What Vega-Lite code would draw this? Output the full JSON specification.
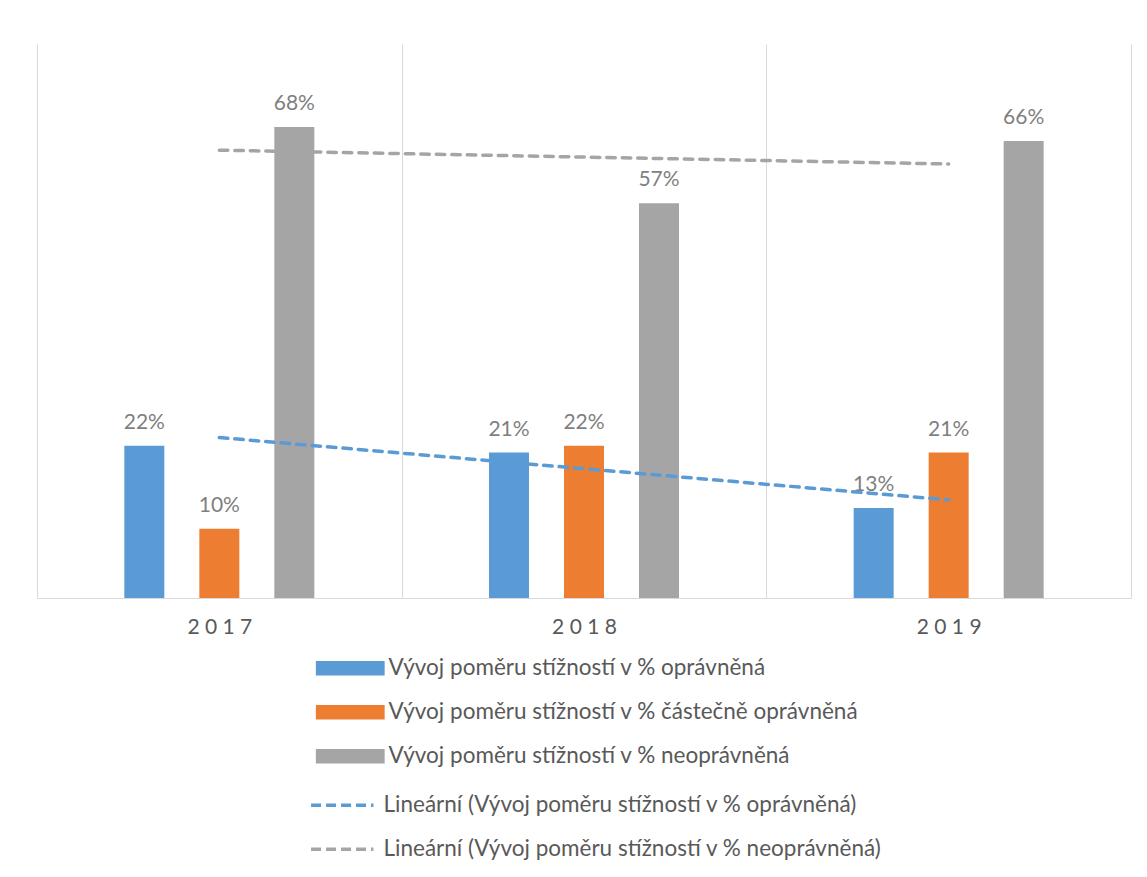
{
  "$schema": "https://vega.github.io/schema/vega-lite/v6.json",
  "width": 1094,
  "height": 554,
  "padding": {"left": 37, "top": 44, "right": 16, "bottom": 5},
  "background": "white",
  "config": {"view": {"stroke": null}, "font": "Lato"},
  "datasets": {
    "bars": [
      {"year": "2017", "series": "Vývoj poměru stížností v % oprávněná", "value": 0.22},
      {"year": "2017", "series": "Vývoj poměru stížností v % částečně oprávněná", "value": 0.10},
      {"year": "2017", "series": "Vývoj poměru stížností v % neoprávněná", "value": 0.68},
      {"year": "2018", "series": "Vývoj poměru stížností v % oprávněná", "value": 0.21},
      {"year": "2018", "series": "Vývoj poměru stížností v % částečně oprávněná", "value": 0.22},
      {"year": "2018", "series": "Vývoj poměru stížností v % neoprávněná", "value": 0.57},
      {"year": "2019", "series": "Vývoj poměru stížností v % oprávněná", "value": 0.13},
      {"year": "2019", "series": "Vývoj poměru stížností v % částečně oprávněná", "value": 0.21},
      {"year": "2019", "series": "Vývoj poměru stížností v % neoprávněná", "value": 0.66}
    ],
    "trend": [
      {"year": "2017", "series": "Lineární (Vývoj poměru stížností v % oprávněná)", "value": 0.2317},
      {"year": "2018", "series": "Lineární (Vývoj poměru stížností v % oprávněná)", "value": 0.1867},
      {"year": "2019", "series": "Lineární (Vývoj poměru stížností v % oprávněná)", "value": 0.1417},
      {"year": "2017", "series": "Lineární (Vývoj poměru stížností v % neoprávněná)", "value": 0.6467},
      {"year": "2018", "series": "Lineární (Vývoj poměru stížností v % neoprávněná)", "value": 0.6367},
      {"year": "2019", "series": "Lineární (Vývoj poměru stížností v % neoprávněná)", "value": 0.6267}
    ]
  },
  "encoding": {
    "x": {
      "field": "year",
      "type": "ordinal",
      "scale": {"paddingInner": 0, "paddingOuter": 0},
      "axis": {
        "title": null,
        "grid": true,
        "tickBand": "extent",
        "gridColor": "#d9d9d9",
        "gridWidth": 1,
        "ticks": false,
        "domainColor": "#d9d9d9",
        "domainWidth": 1,
        "labelAngle": 0,
        "labelFont": "Lato",
        "labelFontSize": 21,
        "labelColor": "#595959",
        "labelPadding": 18,
        "labelExpr": "join(split(datum.label, ''), ' ')"
      }
    },
    "y": {
      "field": "value",
      "type": "quantitative",
      "scale": {"domain": [0, 0.8], "nice": false},
      "axis": null
    }
  },
  "layer": [
    {
      "data": {"name": "bars"},
      "mark": {"type": "bar", "width": 40},
      "encoding": {
        "xOffset": {
          "field": "series",
          "type": "nominal",
          "sort": ["Vývoj poměru stížností v % oprávněná", "Vývoj poměru stížností v % částečně oprávněná", "Vývoj poměru stížností v % neoprávněná"],
          "scale": {"paddingInner": 0.138, "paddingOuter": 1}
        },
        "color": {
          "field": "series",
          "type": "nominal",
          "scale": {
            "domain": [
              "Vývoj poměru stížností v % oprávněná",
              "Vývoj poměru stížností v % částečně oprávněná",
              "Vývoj poměru stížností v % neoprávněná"
            ],
            "range": ["#5B9BD5", "#ED7D31", "#A5A5A5"]
          },
          "legend": {
            "orient": "none",
            "legendX": 302,
            "legendY": 613,
            "direction": "vertical",
            "title": null,
            "labelFont": "Lato",
            "labelFontSize": 22.5,
            "labelColor": "#595959",
            "labelLimit": 700,
            "symbolSize": 256,
            "symbolType": "M-4.3,-0.9H4.3V0.9H-4.3Z",
            "symbolStrokeWidth": 0,
            "labelOffset": 27,
            "rowPadding": 21,
            "padding": 0
          }
        }
      }
    },
    {
      "data": {"name": "bars"},
      "mark": {"type": "text", "baseline": "alphabetic", "dy": -17, "fontSize": 21, "font": "Lato", "color": "#7f7f7f"},
      "encoding": {
        "xOffset": {
          "field": "series",
          "type": "nominal",
          "sort": ["Vývoj poměru stížností v % oprávněná", "Vývoj poměru stížností v % částečně oprávněná", "Vývoj poměru stížností v % neoprávněná"]
        },
        "text": {"field": "value", "type": "quantitative", "format": ".0%"}
      }
    },
    {
      "data": {"name": "trend"},
      "mark": {"type": "line", "strokeWidth": 3.5, "strokeDash": [8.5, 7], "strokeCap": "round"},
      "encoding": {
        "color": {
          "field": "series",
          "type": "nominal",
          "scale": {
            "domain": [
              "Lineární (Vývoj poměru stížností v % oprávněná)",
              "Lineární (Vývoj poměru stížností v % neoprávněná)"
            ],
            "range": ["#5B9BD5", "#A5A5A5"]
          },
          "legend": {
            "orient": "none",
            "legendX": 302,
            "legendY": 750,
            "direction": "vertical",
            "title": null,
            "labelFont": "Lato",
            "labelFontSize": 22.5,
            "labelColor": "#595959",
            "labelLimit": 700,
            "symbolSize": 256,
            "symbolType": "M-4.9,0H2.9",
            "symbolStrokeWidth": 3.5,
            "symbolDash": [10, 5],
            "labelOffset": 22,
            "rowPadding": 21,
            "padding": 0
          }
        },
        "detail": {"field": "series", "type": "nominal"}
      }
    }
  ],
  "resolve": {"scale": {"color": "independent"}}
}
